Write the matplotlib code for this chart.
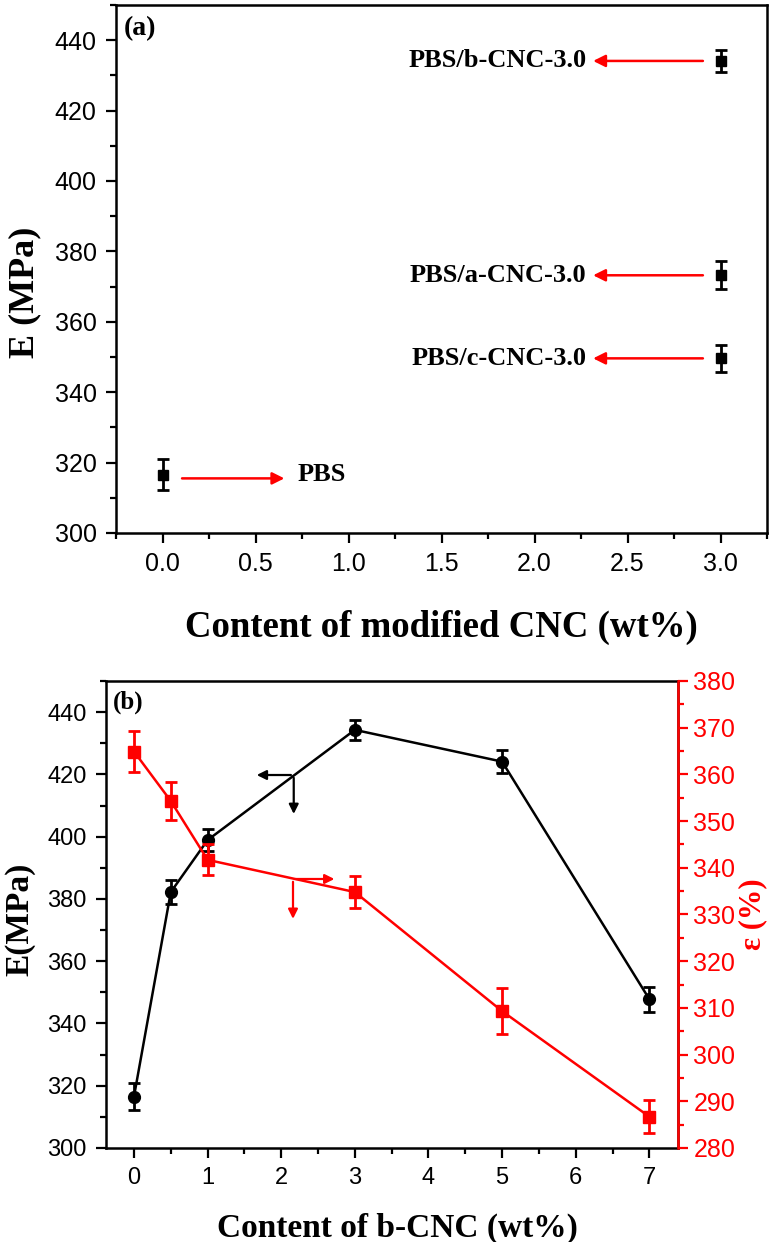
import matplotlib
matplotlib.use("Agg")
import matplotlib.pyplot as plt
from matplotlib.ticker import MultipleLocator

# (a) modulus of PBS and modified-CNC composites
a_x = [0, 3, 3, 3]
a_E = [316.5, 434.1, 373.2, 349.6]
a_err = [4.4, 3.1, 4.0, 3.8]
a_labels = ["PBS", "PBS/b-CNC-3.0", "PBS/a-CNC-3.0", "PBS/c-CNC-3.0"]

# (b) modulus and elongation vs b-CNC content
b_x = [0, 0.5, 1, 3, 5, 7]
b_E = [316.5, 382.2, 398.9, 434.3, 424.1, 347.8]
b_E_err = [4.3, 3.8, 3.5, 3.1, 3.7, 4.0]
b_eps = [364.9, 354.3, 341.7, 334.8, 309.3, 286.7]
b_eps_err = [4.3, 4.0, 3.3, 3.4, 4.9, 3.5]

serif = "Liberation Serif"
sans = "Liberation Sans"
plt.rcParams["font.family"] = sans
RED = "#ff0000"

fig = plt.figure(figsize=(7.72, 12.42), dpi=100)

# ---------- panel (a) ----------
ax = fig.add_axes([0.1503, 0.5709, 0.8433, 0.4251])
ax.errorbar(a_x, a_E, yerr=a_err, fmt="s", color="black", ms=6.5,
            capsize=4.5, capthick=2, elinewidth=2)
ax.set_xlim(-0.25, 3.25)
ax.set_ylim(300, 450)
ax.xaxis.set_major_locator(MultipleLocator(0.5))
ax.xaxis.set_minor_locator(MultipleLocator(0.25))
ax.yaxis.set_major_locator(MultipleLocator(20))
ax.yaxis.set_minor_locator(MultipleLocator(10))
ax.set_xticks([0, 0.5, 1, 1.5, 2, 2.5, 3])
ax.set_xticklabels(["0.0", "0.5", "1.0", "1.5", "2.0", "2.5", "3.0"])
ax.tick_params(which="both", direction="out", width=1.6, labelsize=18, top=False, right=False)
ax.tick_params(which="major", length=7, pad=7)
ax.tick_params(which="minor", length=4)
for s in ax.spines.values():
    s.set_linewidth(1.8)

arrow_kw = dict(arrowstyle="-|>", color=RED, lw=1.8, mutation_scale=18)
# PBS: arrow points right to its label
ax.annotate("", xy=(0.67, a_E[0] - 1.0), xytext=(0.09, a_E[0] - 1.0), arrowprops=arrow_kw)
ax.text(0.725, a_E[0], a_labels[0], fontfamily=serif, fontweight="bold",
        fontsize=19, va="center", ha="left")
# 3.0 wt% composites: arrows point left to their labels
for y, lab in zip(a_E[1:], a_labels[1:]):
    ax.annotate("", xy=(2.30, y), xytext=(2.92, y), arrowprops=arrow_kw)
    ax.text(2.28, y, lab, fontfamily=serif, fontweight="bold",
            fontsize=19, va="center", ha="right")
ax.text(0.012, 0.955, "(a)", transform=ax.transAxes, fontfamily=serif,
        fontweight="bold", fontsize=20, va="center", ha="left")
ax.set_xlabel("Content of modified CNC (wt%)", fontfamily=serif, fontweight="bold", fontsize=26.5)
ax.set_ylabel("E (MPa)", fontfamily=serif, fontweight="bold", fontsize=26)
ax.xaxis.set_label_coords(0.5, -0.146)
ax.yaxis.set_label_coords(-0.114, 0.455)

# ---------- panel (b) ----------
bx = fig.add_axes([0.1373, 0.0757, 0.741, 0.376])
bx.errorbar(b_x, b_E, yerr=b_E_err, fmt="-o", color="black", ms=8.5, lw=1.8,
            capsize=4.5, capthick=2, elinewidth=2, zorder=3)
bx.set_xlim(-0.38, 7.39)
bx.set_ylim(300, 450)
bx.xaxis.set_major_locator(MultipleLocator(1))
bx.xaxis.set_minor_locator(MultipleLocator(0.5))
bx.yaxis.set_major_locator(MultipleLocator(20))
bx.yaxis.set_minor_locator(MultipleLocator(10))
bx.tick_params(which="both", direction="out", width=1.6, labelsize=17, top=False, right=False)
bx.tick_params(which="major", length=7, pad=7)
bx.tick_params(which="minor", length=4)
for s in bx.spines.values():
    s.set_linewidth(1.8)

rx = bx.twinx()
rx.errorbar(b_x, b_eps, yerr=b_eps_err, fmt="-s", color=RED, ms=8.5, lw=1.8,
            capsize=4.5, capthick=2, elinewidth=2, zorder=3)
rx.set_ylim(280, 380)
rx.yaxis.set_major_locator(MultipleLocator(10))
rx.yaxis.set_minor_locator(MultipleLocator(5))
rx.tick_params(which="both", direction="out", width=1.6, labelsize=18, colors=RED)
rx.tick_params(which="major", length=7, pad=4)
rx.tick_params(which="minor", length=4)
rx.spines["right"].set_color(RED)
rx.spines["right"].set_linewidth(1.8)
for k in ["left", "top", "bottom"]:
    rx.spines[k].set_visible(False)

# small axis-indicator arrows
small_k = dict(arrowstyle="-|>", color="black", lw=1.6, mutation_scale=14)
bx.annotate("", xy=(1.63, 419.8), xytext=(2.17, 419.8), arrowprops=small_k)
bx.annotate("", xy=(2.17, 406.4), xytext=(2.17, 419.8), arrowprops=small_k)
small_r = dict(small_k, color=RED)
bx.annotate("", xy=(2.76, 386.4), xytext=(2.16, 386.4), arrowprops=small_r)
bx.annotate("", xy=(2.16, 372.7), xytext=(2.16, 386.4), arrowprops=small_r)

bx.text(0.012, 0.955, "(b)", transform=bx.transAxes, fontfamily=serif,
        fontweight="bold", fontsize=18, va="center", ha="left")
bx.set_xlabel("Content of b-CNC (wt%)", fontfamily=serif, fontweight="bold", fontsize=24)
bx.set_ylabel("E(MPa)", fontfamily=serif, fontweight="bold", fontsize=24)
rx.set_ylabel("ε (%)", fontfamily=serif, fontweight="bold", fontsize=22, color=RED)
bx.xaxis.set_label_coords(0.51, -0.139)
bx.yaxis.set_label_coords(-0.124, 0.49)
rx.yaxis.set_label_coords(1.105, 0.5)

fig.savefig("out.png", dpi=100)
